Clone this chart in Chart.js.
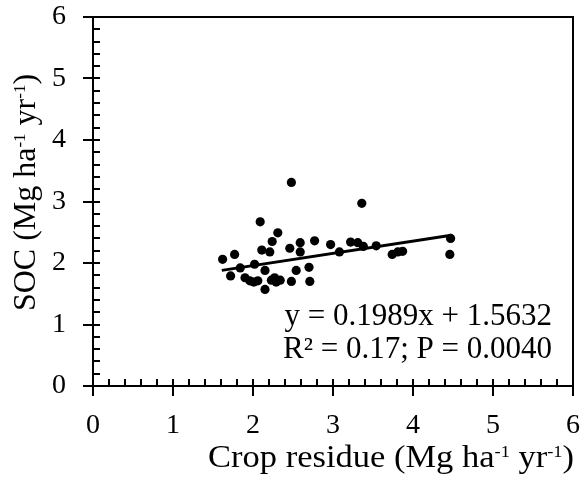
<!DOCTYPE html>
<html>
<head>
<meta charset="utf-8">
<script src="https://cdn.jsdelivr.net/npm/chart.js@4"></script>
<style>
html,body{margin:0;padding:0;background:#fff;}
#wrap{width:584px;height:484px;position:relative;}
</style>
</head>
<body>
<div id="wrap"><canvas id="c" width="584" height="484"></canvas></div>
<script>
// Data
const residue = [1.62,1.77,1.72,1.84,1.90,1.96,2.01,2.06,2.02,2.09,2.11,2.15,2.15,2.21,2.24,2.31,2.23,2.27,2.34,2.29,2.46,2.48,2.48,2.54,2.59,2.59,2.70,2.71,2.77,2.97,3.08,3.22,3.31,3.36,3.38,3.54,3.74,3.81,3.87,4.47,4.46];
const soc     = [2.06,2.14,1.79,1.92,1.76,1.71,1.69,1.71,1.98,2.67,2.21,1.88,1.57,2.18,2.35,2.49,1.72,1.76,1.72,1.69,2.24,3.31,1.70,1.88,2.33,2.18,1.93,1.70,2.36,2.30,2.18,2.34,2.33,2.97,2.27,2.28,2.14,2.18,2.19,2.40,2.14];
const trendX = [1.61, 4.48];
const trendY = [1.88, 2.45];
const xTicks = [0,1,2,3,4,5,6];
const yTicks = [0,1,2,3,4,5,6];
const eqLine1 = "y = 0.1989x + 1.5632";
const eqLine2 = "R² = 0.17; P = 0.0040";
const xTitleParts = [["Crop residue (Mg ha",0],["-1",1],[" yr",0],["-1",1],[")",0]];
const yTitleParts = [["SOC (Mg ha",0],["-1",1],[" yr",0],["-1",1],[")",0]];

const FONT = "'Liberation Serif','Times New Roman',serif";
const TITLEFS = 32, SUPFS = 17, TICKFS = 28, ANNFS = 31;

function richWidth(ctx, parts){
  let w = 0;
  parts.forEach(p=>{ctx.font = (p[1]?SUPFS:TITLEFS)+"px "+FONT; w += ctx.measureText(p[0]).width;});
  return w;
}
function drawRich(ctx, parts, x, y){
  // draws starting at x (left), baseline y
  let cx = x;
  ctx.textAlign='left'; ctx.textBaseline='alphabetic';
  parts.forEach(p=>{
    ctx.font = (p[1]?SUPFS:TITLEFS)+"px "+FONT;
    ctx.fillText(p[0], cx, p[1]? y-10 : y);
    cx += ctx.measureText(p[0]).width;
  });
}

const framePlugin = {
  id:'frame',
  afterDatasetsDraw(chart){
    const ctx = chart.ctx, a = chart.chartArea;
    const xs = chart.scales.x, ys = chart.scales.y;
    ctx.save();
    ctx.strokeStyle='#000'; ctx.lineWidth=2;
    ctx.strokeRect(a.left, a.top, a.right-a.left, a.bottom-a.top);
    ctx.beginPath();
    for(let i=0; i<=30; i++){
      const v = i*0.2;
      const px = Math.round(xs.getPixelForValue(v));
      const major = i%5===0;
      ctx.moveTo(px, a.bottom-7);
      ctx.lineTo(px, major? a.bottom+10 : a.bottom);
    }
    for(let i=0; i<=30; i++){
      const v = i*0.2;
      const py = Math.round(ys.getPixelForValue(v));
      const major = i%5===0;
      ctx.moveTo(major? a.left-10 : a.left, py);
      ctx.lineTo(a.left+7, py);
    }
    ctx.stroke();
    ctx.fillStyle='#000';
    // annotation
    ctx.font = ANNFS+"px "+FONT; ctx.textAlign='right'; ctx.textBaseline='alphabetic';
    ctx.fillText(eqLine1, 552, 325);
    ctx.fillText(eqLine2, 552, 358);
    // x title (left 208 -> right 574)
    const xw = richWidth(ctx, xTitleParts);
    ctx.save();
    ctx.translate(208, 467);
    ctx.scale(366 / xw, 1);
    drawRich(ctx, xTitleParts, 0, 0);
    ctx.restore();
    // y title
    const yw = richWidth(ctx, yTitleParts);
    ctx.save();
    ctx.translate(35, 192.5);
    ctx.rotate(-Math.PI/2);
    drawRich(ctx, yTitleParts, -yw/2, 0);
    ctx.restore();
    ctx.restore();
  }
};

new Chart(document.getElementById('c'), {
  type:'scatter',
  data:{
    datasets:[
      {data: residue.map((x,i)=>({x, y: soc[i]})), backgroundColor:'#000', borderWidth:0, pointRadius:4.6, pointHoverRadius:4.6},
      {type:'line', data: trendX.map((x,i)=>({x, y: trendY[i]})), borderColor:'#000', borderWidth:3, pointRadius:0, fill:false, showLine:true}
    ]
  },
  options:{
    responsive:false, animation:false, devicePixelRatio:1,
    layout:{padding:{top:17, right:11, left:0, bottom:0}},
    plugins:{legend:{display:false}, tooltip:{enabled:false}},
    scales:{
      x:{type:'linear', min:0, max:6, afterBuildTicks(s){s.ticks = xTicks.map(v=>({value:v}));},
         afterFit(s){s.height = 98; s.paddingLeft = 0; s.paddingRight = 0;},
         grid:{display:false, drawTicks:false}, border:{display:false},
         ticks:{color:'#000', font:{family:FONT, size:TICKFS}, padding:23, maxRotation:0}},
      y:{type:'linear', min:0, max:6, afterBuildTicks(s){s.ticks = yTicks.map(v=>({value:v}));},
         afterFit(s){s.width = 93; s.paddingTop = 0; s.paddingBottom = 0;},
         grid:{display:false, drawTicks:false}, border:{display:false},
         ticks:{color:'#000', font:{family:FONT, size:TICKFS}, padding:27}}
    }
  },
  plugins:[framePlugin]
});
</script>
</body>
</html>
